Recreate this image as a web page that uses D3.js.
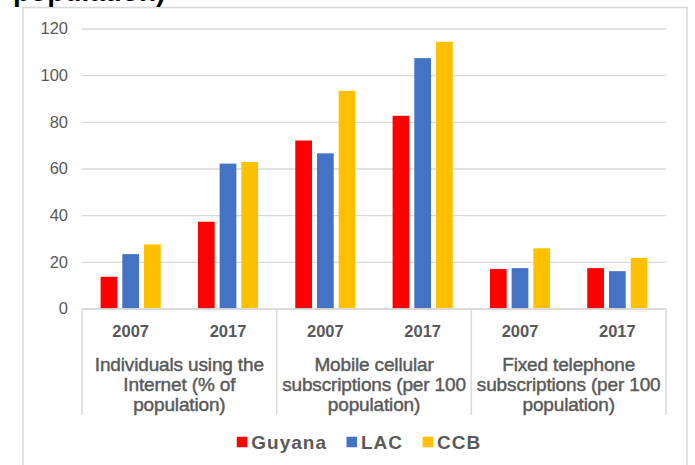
<!DOCTYPE html>
<html>
<head>
<meta charset="utf-8">
<script src="https://cdn.jsdelivr.net/npm/d3@7"></script>
<style>
  html, body { margin: 0; padding: 0; background: #fff; }
  svg { display: block; font-family: "Liberation Sans", Arial, sans-serif; }
</style>
</head>
<body>
<svg id="chart" width="695" height="465"></svg>
<script>
// Indicator groups and the two survey years shown under each
const indicators = [
  ["Individuals using the", "Internet (% of", "population)"],
  ["Mobile cellular", "subscriptions (per 100", "population)"],
  ["Fixed telephone", "subscriptions (per 100", "population)"]
];
const years = ["2007", "2017"];
const series = ["Guyana", "LAC", "CCB"];
const seriesColors = ["#FF0000", "#4472C4", "#FFC000"];

// Values per series, in order: Internet 2007, 2017, Mobile 2007, 2017, Fixed 2007, 2017
const guyana = [13.6, 37.2, 72.0, 82.6, 16.9, 17.3];
const lac    = [23.3, 62.1, 66.5, 107.3, 17.3, 16.0];
const ccb    = [27.5, 62.8, 93.3, 114.3, 25.8, 21.7];
const yTicks = [0, 20, 40, 60, 80, 100, 120];

const seriesValues = { Guyana: guyana, LAC: lac, CCB: ccb };

// One slot per indicator/year pair
const slots = [];
indicators.forEach((ind, i) => years.forEach(yr => slots.push({ key: i + "-" + yr, ind: i, year: yr })));
const rows = slots.map((s, j) => ({
  ...s,
  bars: series.map(name => ({ name, value: seriesValues[name][j] }))
}));

const svg = d3.select("#chart");
const gray = "#595959";
const gridColor = "#d9d9d9";

// Outer chart frame
svg.append("rect")
  .attr("x", 23).attr("y", 7.5).attr("width", 664).attr("height", 470)
  .attr("fill", "none").attr("stroke", gridColor).attr("stroke-width", 1.5);

// Tail of the heading above the frame
svg.append("text")
  .attr("x", 13).attr("y", 1)
  .attr("font-size", 28).attr("font-weight", "bold").attr("fill", "#000")
  .text("population)");

const plot = { left: 82, right: 666, top: 28.5, bottom: 308.5 };

const y = d3.scaleLinear().domain([0, 120]).range([plot.bottom, plot.top]);
const x0 = d3.scaleBand().domain(slots.map(s => s.key)).range([plot.left, plot.right]).padding(0);
const groupPad = 18.6;
const x1 = d3.scaleBand().domain(series)
  .range([groupPad, x0.bandwidth() - groupPad]).paddingInner(0.23).paddingOuter(0);
const color = d3.scaleOrdinal().domain(series).range(seriesColors);

// Gridlines and tick labels
const yAxis = d3.axisLeft(y).tickValues(yTicks).tickSize(-(plot.right - plot.left)).tickPadding(14);
const gy = svg.append("g").attr("transform", `translate(${plot.left},0)`).call(yAxis);
gy.select(".domain").remove();
gy.selectAll(".tick line").attr("stroke", gridColor).attr("stroke-width", 1.3);
gy.selectAll(".tick text")
  .attr("font-size", 16.5).attr("fill", gray)
  .attr("font-family", "Liberation Sans, Arial, sans-serif");

// Bars
const groups = svg.append("g").selectAll("g")
  .data(rows).join("g")
  .attr("transform", d => `translate(${x0(d.key)},0)`);
groups.selectAll("rect")
  .data(d => d.bars).join("rect")
  .attr("x", d => x1(d.name))
  .attr("width", x1.bandwidth())
  .attr("y", d => y(d.value))
  .attr("height", d => y(0) - y(d.value))
  .attr("fill", d => color(d.name));

// Category axis: baseline, year labels, indicator separators and names
const axisY = 309;
const axisBottom = 415;
svg.append("line")
  .attr("x1", plot.left).attr("x2", plot.right).attr("y1", axisY).attr("y2", axisY)
  .attr("stroke", gridColor).attr("stroke-width", 1.5);

const bounds = indicators.map((_, i) => x0(i + "-" + years[0])).concat([plot.right]);
svg.append("g").selectAll("line")
  .data(bounds).join("line")
  .attr("x1", d => d).attr("x2", d => d)
  .attr("y1", axisY).attr("y2", axisBottom)
  .attr("stroke", gridColor).attr("stroke-width", 1.5);

svg.append("g").selectAll("text")
  .data(slots).join("text")
  .attr("x", d => x0(d.key) + x0.bandwidth() / 2)
  .attr("y", 331)
  .attr("dy", "0.35em")
  .attr("text-anchor", "middle")
  .attr("font-size", 16.5).attr("font-weight", "bold").attr("fill", gray)
  .text(d => d.year);

const catText = svg.append("g").selectAll("text")
  .data(indicators).join("text")
  .attr("text-anchor", "middle")
  .attr("font-size", 19).attr("fill", gray)
  .attr("stroke", gray).attr("stroke-width", 0.45)
  .attr("letter-spacing", -0.15);
catText.selectAll("tspan")
  .data((d, i) => d.map(line => ({ line, i })))
  .join("tspan")
  .attr("x", d => (bounds[d.i] + bounds[d.i + 1]) / 2)
  .attr("y", (d, k) => 364 + k * 20)
  .attr("dy", "0.35em")
  .text(d => d.line);

// Legend
const legend = svg.append("g");
const legendY = 442;
const sq = 10.5;
let cursor = 0;
series.forEach((name, i) => {
  legend.append("rect")
    .attr("x", cursor).attr("y", legendY - sq / 2)
    .attr("width", sq).attr("height", sq)
    .attr("fill", color(name));
  const t = legend.append("text")
    .attr("x", cursor + sq + 4).attr("y", legendY)
    .attr("dy", "0.35em")
    .attr("font-size", 19).attr("font-weight", "bold")
    .attr("letter-spacing", 1).attr("fill", gray)
    .text(name);
  cursor += sq + 4 + t.node().getComputedTextLength() + (i < series.length - 1 ? 19.5 : 0);
});
legend.attr("transform", `translate(${359 - cursor / 2},0)`);
</script>
</body>
</html>
